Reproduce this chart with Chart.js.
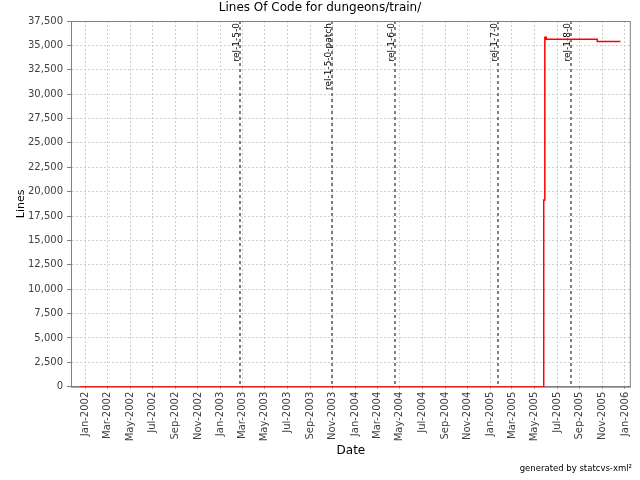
<!DOCTYPE html>
<html>
<head>
<meta charset="utf-8">
<title>Lines Of Code for dungeons/train/</title>
<script src="https://cdn.jsdelivr.net/npm/chart.js@4.4.0/dist/chart.umd.min.js"></script>
<style>
  html, body { margin: 0; padding: 0; background: #fff; }
  #wrap { width: 640px; height: 480px; }
</style>
</head>
<body>
<div id="wrap"><canvas id="loc"></canvas></div>
<script>
// step points of the LOC history
const pointDates = ['2001-12-16', '2005-05-26', '2005-05-29', '2005-06-02', '2005-10-18', '2005-12-20'];
const lineCounts = [0, 19150, 35840, 35620, 35400, 35400];

// cvs tags shown as markers
const tagNames = ['rel-1-5-0', 'rel-1-5-0-patch', 'rel-1-6-0', 'rel-1-7-0', 'rel-1-8-0'];
const tagDates = ['2003-02-24', '2003-10-30', '2004-04-19', '2005-01-23', '2005-08-08'];

const tickLabels = ['Jan-2002', 'Mar-2002', 'May-2002', 'Jul-2002', 'Sep-2002', 'Nov-2002',
  'Jan-2003', 'Mar-2003', 'May-2003', 'Jul-2003', 'Sep-2003', 'Nov-2003',
  'Jan-2004', 'Mar-2004', 'May-2004', 'Jul-2004', 'Sep-2004', 'Nov-2004',
  'Jan-2005', 'Mar-2005', 'May-2005', 'Jul-2005', 'Sep-2005', 'Nov-2005', 'Jan-2006'];
const axisStart = '2001-11-22';
const axisEnd = '2006-01-17';
const yMax = 37500;
const yStep = 2500;

const monthIdx = {Jan: 0, Feb: 1, Mar: 2, Apr: 3, May: 4, Jun: 5, Jul: 6, Aug: 7, Sep: 8, Oct: 9, Nov: 10, Dec: 11};
const tickValues = tickLabels.map(l => {
    const [m, y] = l.split('-');
    return Date.UTC(+y, monthIdx[m], 1);
});

Chart.defaults.font.family = '"DejaVu Sans", sans-serif';
Chart.defaults.color = '#404040';
Chart.defaults.animation = false;

const tagMarkers = {
    id: 'tagMarkers',
    beforeDatasetsDraw(chart) {
        const {ctx, chartArea: a, scales: {x}} = chart;
        ctx.save();
        // plot outline (top and right are not drawn by the axes)
        ctx.strokeStyle = '#808080';
        ctx.lineWidth = 1;
        ctx.strokeRect(a.left + 0.5, a.top + 0.5, a.right - a.left - 1, a.bottom - a.top);
        tagNames.forEach((name, i) => {
            const px = Math.round(x.getPixelForValue(Date.parse(tagDates[i])));
            ctx.strokeStyle = '#808080';
            ctx.lineWidth = 2;
            ctx.setLineDash([3, 3]);
            ctx.beginPath();
            ctx.moveTo(px, a.top);
            ctx.lineTo(px, a.bottom);
            ctx.stroke();
            ctx.save();
            ctx.translate(px - 1.5, a.top + 2);
            ctx.rotate(-Math.PI / 2);
            ctx.font = '9px "DejaVu Sans", sans-serif';
            ctx.fillStyle = '#000';
            ctx.textAlign = 'right';
            ctx.textBaseline = 'alphabetic';
            ctx.fillText(name, 0, 0);
            ctx.restore();
        });
        ctx.restore();
    }
};

new Chart(document.getElementById('loc'), {
    type: 'line',
    data: {
        datasets: [{
            data: pointDates.map((d, i) => ({x: Date.parse(d), y: lineCounts[i]})),
            borderColor: '#ff0000',
            borderWidth: 1.5,
            pointRadius: 0,
            stepped: true,
            fill: false
        }]
    },
    options: {
        responsive: true,
        maintainAspectRatio: false,
        devicePixelRatio: 1,
        layout: {padding: {left: 8, right: 8, top: 0, bottom: 4}},
        plugins: {
            legend: {display: false},
            tooltip: {enabled: false},
            title: {
                display: true,
                text: 'Lines Of Code for dungeons/train/',
                color: '#000',
                font: {size: 12, weight: 'normal'},
                padding: {top: 1, bottom: 5.6}
            },
            subtitle: {
                display: true,
                position: 'bottom',
                align: 'end',
                text: 'generated by statcvs-xml\u00b2',
                color: '#000',
                font: {size: 8.5},
                padding: {top: 4, bottom: 2}
            }
        },
        scales: {
            x: {
                type: 'linear',
                min: Date.parse(axisStart),
                max: Date.parse(axisEnd),
                afterBuildTicks: s => { s.ticks = tickValues.map(v => ({value: v})); },
                afterFit: s => { s.height = 73.1; },
                ticks: {
                    autoSkip: false,
                    maxRotation: 90,
                    minRotation: 90,
                    padding: 3,
                    font: {size: 10},
                    callback: (v, i) => tickLabels[i]
                },
                grid: {color: '#d0d0d0', tickColor: '#808080', tickLength: 2},
                border: {color: '#808080', dash: [2, 2]},
                title: {display: true, text: 'Date', color: '#000', font: {size: 12}, padding: {top: 0, bottom: 1.5}}
            },
            y: {
                min: 0,
                max: yMax,
                afterFit: s => { s.width = 63; },
                ticks: {stepSize: yStep, padding: 4, font: {size: 10}},
                grid: {color: '#d0d0d0', tickColor: '#808080', tickLength: 4},
                border: {color: '#808080', dash: [2, 2]},
                title: {display: true, text: 'Lines', color: '#000', font: {size: 11}, padding: {top: 6.4, bottom: 0}}
            }
        }
    },
    plugins: [tagMarkers]
});
</script>
</body>
</html>
